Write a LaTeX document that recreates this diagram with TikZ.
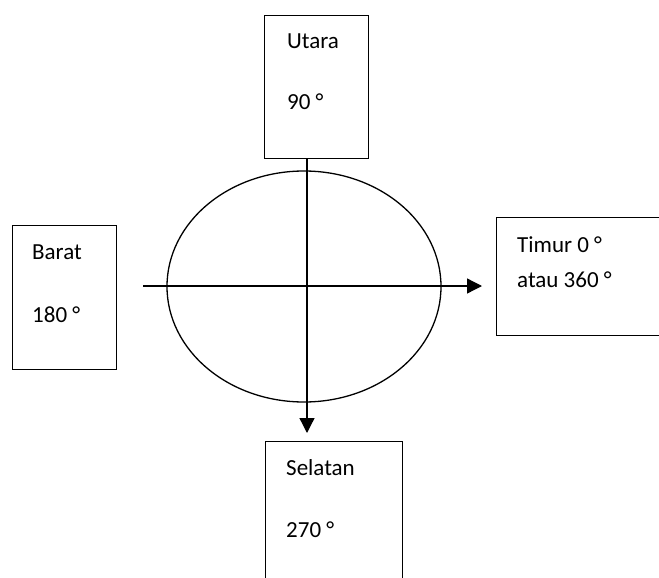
\documentclass[tikz,border=0pt]{standalone}
\usepackage{fontspec}
\setmainfont{Carlito}
\usetikzlibrary{arrows.meta,shapes.geometric}
\begin{document}
\begin{tikzpicture}[x=1pt,y=-1pt,
  box/.style={draw,line width=1.4pt,rectangle,inner sep=0pt,anchor=north west},
  lbl/.style={anchor=base west,inner sep=0pt,font=\fontsize{23}{26}\selectfont},
  ln/.style={line width=1.3pt},
  arr/.style={ln,-{Triangle[length=15pt,width=15pt]}}]
\useasboundingbox (0,0) rectangle (659,578);
\clip (0,0) rectangle (659,578);
% boxes
\node[box,minimum width=104pt,minimum height=143pt] (utara) at (264,15) {};
\node[box,minimum width=104pt,minimum height=144pt] (barat) at (12,225) {};
\node[box,minimum width=200pt,minimum height=118pt] (timur) at (496,217) {};
\node[box,minimum width=137pt,minimum height=180pt] (selatan) at (265,441) {};
% ellipse
\node[draw,ln,ellipse,minimum width=274pt,minimum height=231pt,inner sep=0pt] (circ) at (304,286.5) {};
% texts
\node[lbl] (t1) at (287,49) {Utara};
\node[lbl] (t2) at (287,110) {90 °};
\node[lbl] (t3) at (32,259) {Barat};
\node[lbl] (t4) at (32,322) {180 °};
\node[lbl] (t5) at (517,252) {Timur 0 °};
\node[lbl] (t6) at (517,287) {atau 360 °};
\node[lbl] (t7) at (286,475) {Selatan};
\node[lbl] (t8) at (286,537) {270 °};
% connectors
\coordinate (hs) at (143,286);
\coordinate (he) at (482,286);
\coordinate (vs) at (307,158);
\coordinate (ve) at (307,433);
\draw[arr] (hs) -- (he);
\draw[arr] (vs) -- (ve);
\end{tikzpicture}
\end{document}
